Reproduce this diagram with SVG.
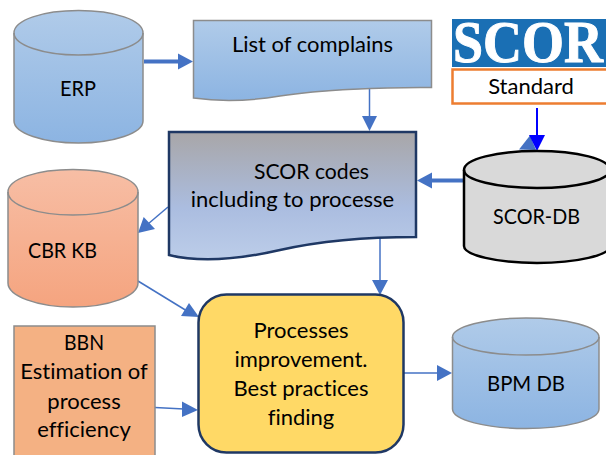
<svg xmlns="http://www.w3.org/2000/svg" width="606" height="455" viewBox="0 0 606 455">
<defs>
<linearGradient id="blue" x1="0" y1="0" x2="0" y2="1"><stop offset="0" stop-color="#b0cbe9"/><stop offset="1" stop-color="#8cb4e2"/></linearGradient>
<linearGradient id="peach" x1="0" y1="0" x2="0" y2="1"><stop offset="0" stop-color="#f7bea5"/><stop offset="1" stop-color="#f5a47f"/></linearGradient>
<linearGradient id="steel" x1="0" y1="0" x2="0" y2="1"><stop offset="0" stop-color="#a8a6a8"/><stop offset="0.6" stop-color="#abbde0"/><stop offset="1" stop-color="#bccde9"/></linearGradient>
</defs>
<style>
text{font-family:"Lato","Open Sans","Liberation Sans",sans-serif;font-size:22px;fill:#000;text-anchor:middle;font-variant-ligatures:none}
.g{stroke:#8c8c8c;stroke-width:1.5}
.in{fill:none}
.c{fill:none;stroke:#4472c4}
.h{fill:#4472c4;stroke:none}
</style>
<rect width="606" height="455" fill="#fff"/>
<g id="connectors">
<path class="c" stroke-width="4" d="M144 61.5H179"/><polygon class="h" points="193,61.5 178,53.5 178,69.5"/>
<path class="c" stroke-width="1.5" d="M369.5 88V117"/><polygon class="h" points="369.5,131 362,116 377,116"/>
<polygon class="h" points="530,135.5 536,150 519,149.5"/>
<path fill="none" stroke="#0000ff" stroke-width="2" d="M537 108V136"/><polygon fill="#0000ff" points="537,151 529,135 545,135"/>
<path class="c" stroke-width="4" d="M464 180.5H430"/><polygon class="h" points="417,180.5 432,172.5 432,188.5"/>
<path class="c" stroke-width="1.5" d="M168 207L148 224"/><polygon class="h" points="138,233 143.7,217 155,229"/>
<path class="c" stroke-width="1.5" d="M138 281L187 311"/><polygon class="h" points="199,317 181,316 189,303"/>
<path class="c" stroke-width="1.5" d="M155 407.5L184 409"/><polygon class="h" points="198,410 182,401.500 182,417"/>
<path class="c" stroke-width="1.5" d="M380 237V281"/><polygon class="h" points="380,295 372,280 388,280"/>
<path class="c" stroke-width="1.5" d="M404 373H438"/><polygon class="h" points="452,373 437,365 437,381"/>
</g>
<g id="erp">
<path class="g" fill="url(#blue)" d="M14 33C14 20 43 10.500 78.500 10.500S143 20 143 33V121C143 133 114 143 78.500 143S14 133 14 121Z"/>
<path class="g in" d="M14 33C14 45 43 55 78.500 55S143 45 143 33"/>
<text x="78" y="96" textLength="36" lengthAdjust="spacingAndGlyphs">ERP</text>
</g>
<g id="list">
<path class="g" fill="url(#blue)" d="M193.500 20.500H431.500V87.500C385 87 320 90 280 96C250 101 222 102 193.500 98Z"/>
<text x="312.500" y="52">List of complains</text>
</g>
<g id="scor-logo">
<rect x="452" y="19" width="154" height="48" fill="#1a6fb4"/>
<text x="528" y="62" style="font-family:'Liberation Serif',serif;font-weight:bold;font-size:60px;fill:#fff;stroke:#fff;stroke-width:1" textLength="150" lengthAdjust="spacingAndGlyphs">SCOR</text>
</g>
<g id="standard">
<rect x="452.500" y="69.500" width="160" height="34" fill="#fff" stroke="#ed7d31" stroke-width="2.500"/>
<text x="531" y="94">Standard</text>
</g>
<g id="scor-codes">
<path fill="url(#steel)" stroke="#1f3864" stroke-width="2.500" d="M169 132H416V237C370 237 320 241 280 250C245 258 205 264 169 255Z"/>
<text x="311.500" y="179" textLength="115" lengthAdjust="spacingAndGlyphs">SCOR codes</text>
<text x="292.500" y="207">including to processe</text>
</g>
<g id="scor-db">
<path fill="#d9d9d9" stroke="#000" stroke-width="2.500" d="M464 170C464 159 497 151 537 151S610 159 610 170V246C610 255 577 263 537 263S464 255 464 246Z"/>
<path fill="none" stroke="#000" stroke-width="2.500" d="M464 170C464 180 497 188 537 188S610 180 610 170"/>
<text x="536.500" y="224" textLength="87" lengthAdjust="spacingAndGlyphs">SCOR-DB</text>
</g>
<g id="cbr-kb">
<path class="g" fill="url(#peach)" d="M8 192C8 179 37 169.500 73 169.500S138 179 138 192V283C138 296 109 307 73 307S8 296 8 283Z"/>
<path class="g in" d="M8 192C8 205 37 215 73 215S138 205 138 192"/>
<text x="62.500" y="258" textLength="69" lengthAdjust="spacingAndGlyphs">CBR KB</text>
</g>
<g id="bbn">
<rect class="g" x="14" y="326" width="141" height="135" fill="#f4b183"/>
<text x="84" y="350" textLength="40" lengthAdjust="spacingAndGlyphs">BBN</text>
<text x="84" y="379">Estimation of</text>
<text x="84" y="409">process</text>
<text x="84" y="437">efficiency</text>
</g>
<g id="process">
<rect x="198.500" y="294.500" width="205" height="158" rx="28" fill="#ffd966" stroke="#1f3864" stroke-width="2.500"/>
<text x="301" y="338">Processes</text>
<text x="301" y="367">improvement.</text>
<text x="301" y="396">Best practices</text>
<text x="301" y="425">finding</text>
</g>
<g id="bpm-db">
<path class="g" fill="url(#blue)" d="M452.500 337C452.500 327 485 318 526 318S599 327 599 337V409C599 420 566 428.500 526 428.500S452.500 420 452.500 409Z"/>
<path class="g in" d="M452.500 337C452.500 347 485 355 526 355S599 347 599 337"/>
<text x="526" y="391" textLength="78" lengthAdjust="spacingAndGlyphs">BPM DB</text>
</g>
</svg>
